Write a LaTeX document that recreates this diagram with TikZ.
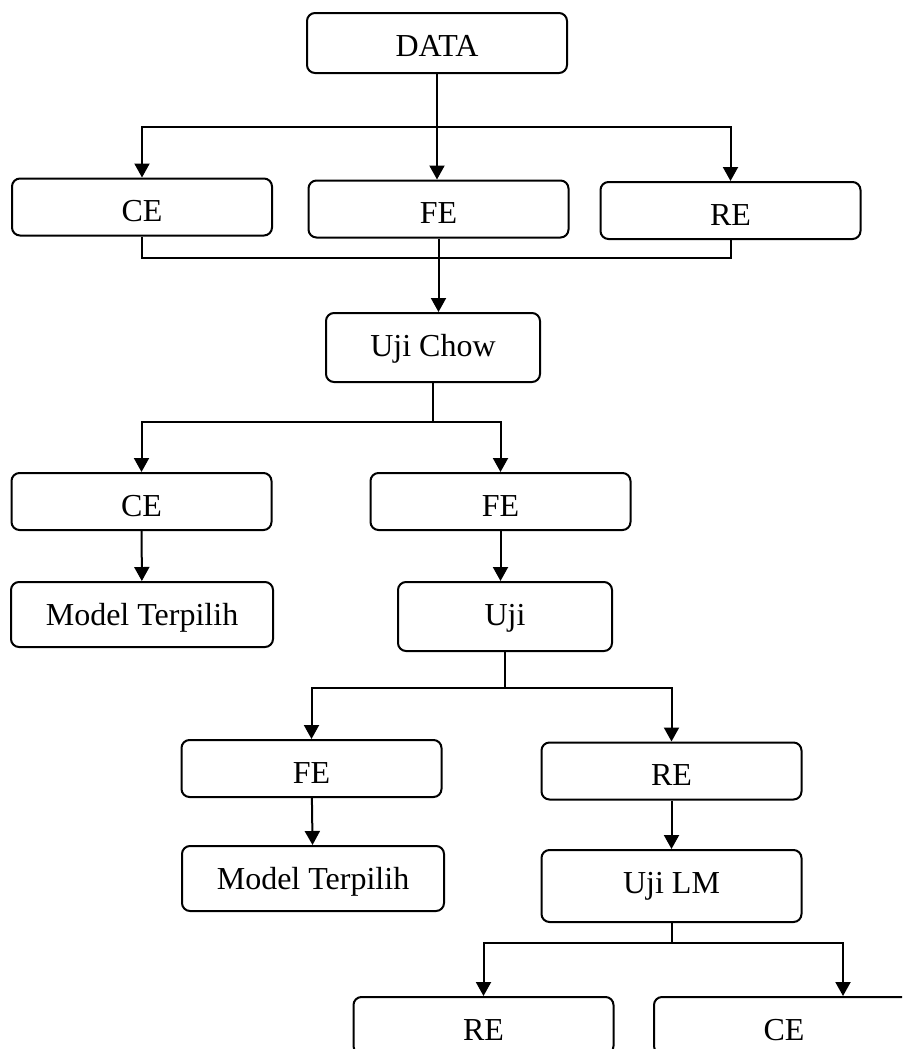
\documentclass[tikz,border=0pt]{standalone}
\usepackage{fontspec}
\setmainfont{Liberation Serif}
\usetikzlibrary{arrows.meta}

\tikzset{
	box/.style={draw, line width=1pt, rounded corners=4pt, minimum width=130pt, inner sep=0pt, text height=21.5pt, text depth=#1, font=\fontsize{16}{19}\selectfont},
	box/.default=7pt,
	arr/.style={line width=1pt, -{Triangle[length=7pt,width=7.5pt]}},
	lin/.style={line width=1pt}
}

\begin{document}
\begin{tikzpicture}[x=0.5pt,y=-0.5pt]
	%\draw[help lines] (0,0) grid[step=50] (902,1049);
	\clip (0,0) rectangle (902,1049);
	\node[box=8.5pt] (data) at (437,43) {DATA};
	\node[box] (ce1) at (142,207) {CE};
	\node[box] (fe1) at (438.5,209) {FE};
	\node[box] (re1) at (730.5,210.5) {RE};
	\node[box=13pt, minimum width=107pt] (chow) at (433,347.5) {Uji Chow};
	\node[box] (ce2) at (141.5,501.5) {CE};
	\node[box] (fe2) at (500.5,501.5) {FE};
	\node[box=11pt, minimum width=131pt] (mt1) at (142,614.5) {Model Terpilih};
	\node[box=13pt, minimum width=107pt] (uji) at (505,616.5) {Uji};
	\node[box] (fe3) at (311.5,768.5) {FE};
	\node[box] (re3) at (671.5,771) {RE};
	\node[box=11pt, minimum width=131pt] (mt2) at (313,878.5) {Model Terpilih};
	\node[box=14.5pt] (ujilm) at (671.5,886) {Uji LM};
	\node[box] (re4) at (483.5,1025.5) {RE};
	\node[box] (ce4) at (784,1025.5) {CE};
	% branch points
	\coordinate (b1) at (437,127);
	\coordinate (m1) at (437,258);
	\coordinate (b2) at (433,422);
	\coordinate (b3) at (505,688);
	\coordinate (b4) at (671.5,943);
	\draw[arr] (data) -- (data.south |- fe1.north);
	\draw[arr] (b1) -| (ce1.north);
	\draw[arr] (b1) -| (re1.north);
	\draw[lin] (ce1.south) |- (m1) -| (re1.south);
	\draw[arr] (fe1.south) -- (fe1.south |- chow.north);
	\draw[lin] (chow) -- (b2);
	\draw[arr] (b2) -| (ce2.north);
	\draw[arr] (b2) -| (fe2.north);
	\draw[arr] (ce2) -- (mt1);
	\draw[arr] (fe2.south) -- (fe2.south |- uji.north);
	\draw[lin] (uji) -- (b3);
	\draw[arr] (b3) -| (fe3.north);
	\draw[arr] (b3) -| (re3.north);
	\draw[arr] (fe3) -- (mt2);
	\draw[arr] (re3) -- (ujilm);
	\draw[lin] (ujilm) -- (b4);
	\draw[arr] (b4) -| (re4.north);
	\draw[arr] (b4) -| ([xshift=-36pt]ce4.north east);
\end{tikzpicture}
\end{document}
